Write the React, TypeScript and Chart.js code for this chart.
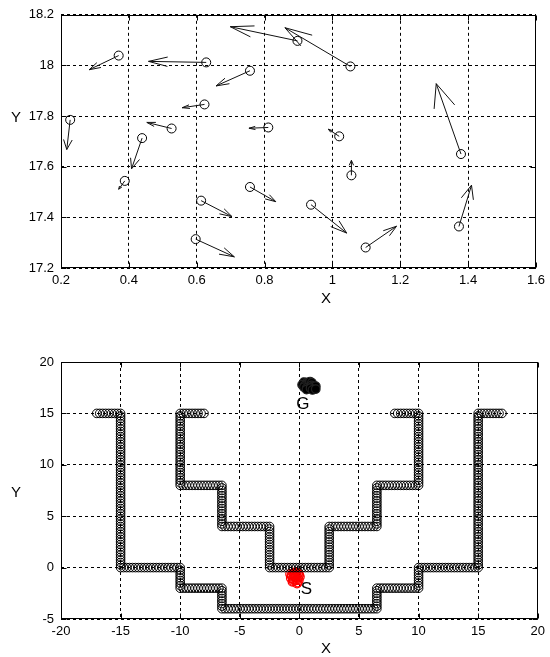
import React, { useEffect, useRef } from 'react';
import { Chart, registerables } from 'chart.js';

Chart.register(...registerables);

// Robot positions near the goal and their velocity vectors
const robotX = [0.370, 0.628, 0.757, 0.623, 0.227, 0.526, 0.811, 0.439, 0.388, 0.757, 0.613, 0.597, 0.897, 1.053, 1.020, 1.056, 1.379, 0.937, 1.098, 1.373];
const robotY = [18.039, 18.012, 17.979, 17.846, 17.785, 17.751, 17.755, 17.713, 17.544, 17.520, 17.466, 17.314, 18.097, 17.996, 17.720, 17.566, 17.650, 17.450, 17.281, 17.364];
const velU = [-0.087, -0.170, -0.100, -0.066, -0.010, -0.073, -0.057, -0.031, -0.018, 0.076, 0.091, 0.114, -0.198, -0.193, -0.032, 0.000, -0.073, 0.105, 0.091, 0.037];
const velV = [-0.056, 0.004, -0.060, -0.013, -0.117, 0.024, -0.003, -0.121, -0.033, -0.058, -0.063, -0.070, 0.056, 0.153, 0.028, 0.059, 0.278, -0.112, 0.084, 0.163];

// Robot start positions near S
const startX = [-0.35, -0.62, -0.10, -0.48, -0.21, -0.72, 0.04, -0.40, -0.55, -0.15, -0.30, -0.66, -0.05, -0.44, -0.25, -0.58, -0.12, -0.36, -0.78, -0.02, -0.50, -0.20];
const startY = [-0.95, -0.66, -0.58, -1.32, -1.18, -1.00, -0.90, -0.46, -1.12, -1.45, -0.75, -0.80, -1.22, -0.85, -0.52, -1.38, -0.98, -1.26, -0.62, -0.70, -0.58, -1.55];

// Obstacle walls (corner vertices); obstacle points are placed along them
const outerWallX = [-17, -15, -15, -10, -10, -6.5, -6.5, 6.5, 6.5, 10, 10, 15, 15, 17];
const outerWallY = [15, 15, 0, 0, -2, -2, -4, -4, -2, -2, 0, 0, 15, 15];
const innerWallX = [-8, -10, -10, -6.5, -6.5, -2.5, -2.5, 2.5, 2.5, 6.5, 6.5, 10, 10, 8];
const innerWallY = [15, 15, 8, 8, 4, 4, 0, 0, 4, 4, 8, 8, 15, 15];
const obstacleSpacing = 0.25;

// Axis ticks
const topXTicks = [0.2, 0.4, 0.6, 0.8, 1, 1.2, 1.4, 1.6];
const topYTicks = [17.2, 17.4, 17.6, 17.8, 18, 18.2];
const bottomXTicks = [-20, -15, -10, -5, 0, 5, 10, 15, 20];
const bottomYTicks = [-5, 0, 5, 10, 15, 20];

const goalLabel = { text: 'G', x: 0.3, y: 15.85 };
const startLabel = { text: 'S', x: 0.6, y: -2.15 };

const FONT = '"Liberation Sans", Arial, Helvetica, sans-serif';
const HEAD_ALPHA = 0.33;
const HEAD_BETA = 0.33;

type Pt = { x: number; y: number };
const GAP: Pt = { x: NaN, y: NaN };

// Quiver shafts and arrow heads as one broken polyline
function quiverPath(): Pt[] {
  const pts: Pt[] = [];
  for (let i = 0; i < robotX.length; i++) {
    const x = robotX[i], y = robotY[i], u = velU[i], v = velV[i];
    const tx = x + u, ty = y + v;
    pts.push({ x, y }, { x: tx, y: ty }, GAP);
    pts.push(
      { x: tx - HEAD_ALPHA * (u + HEAD_BETA * v), y: ty - HEAD_ALPHA * (v - HEAD_BETA * u) },
      { x: tx, y: ty },
      { x: tx - HEAD_ALPHA * (u - HEAD_BETA * v), y: ty - HEAD_ALPHA * (v + HEAD_BETA * u) },
      GAP
    );
  }
  return pts;
}

function wallPoints(xs: number[], ys: number[], step: number): Pt[] {
  const pts: Pt[] = [];
  for (let i = 0; i < xs.length - 1; i++) {
    const dx = xs[i + 1] - xs[i];
    const dy = ys[i + 1] - ys[i];
    const n = Math.max(1, Math.round(Math.hypot(dx, dy) / step));
    for (let k = 0; k < n; k++) pts.push({ x: xs[i] + (dx * k) / n, y: ys[i] + (dy * k) / n });
  }
  pts.push({ x: xs[xs.length - 1], y: ys[ys.length - 1] });
  return pts;
}

const zip = (xs: number[], ys: number[]): Pt[] => xs.map((x, i) => ({ x, y: ys[i] }));

type TextSpec = { text: string; px: number; py: number; size: number };

function frameAndLabels(texts: TextSpec[], dataTexts: { text: string; x: number; y: number; size: number }[]) {
  return {
    id: 'frameAndLabels',
    afterDraw(chart: any) {
      const { ctx, chartArea: a, scales } = chart;
      const L = Math.round(a.left) + 0.5, R = Math.round(a.right) - 0.5;
      const T = Math.round(a.top) + 0.5, B = Math.round(a.bottom) - 0.5;
      ctx.save();
      ctx.strokeStyle = '#000';
      ctx.lineWidth = 1;
      ctx.setLineDash([]);
      ctx.strokeRect(L, T, R - L, B - T);
      const tl = 5;
      ctx.beginPath();
      for (const t of scales.x.ticks) {
        const p = Math.round(scales.x.getPixelForValue(t.value)) + 0.5;
        ctx.moveTo(p, B); ctx.lineTo(p, B - tl);
        ctx.moveTo(p, T); ctx.lineTo(p, T + tl);
      }
      for (const t of scales.y.ticks) {
        const p = Math.round(scales.y.getPixelForValue(t.value)) + 0.5;
        ctx.moveTo(L, p); ctx.lineTo(L + tl, p);
        ctx.moveTo(R, p); ctx.lineTo(R - tl, p);
      }
      ctx.stroke();
      ctx.fillStyle = '#000';
      ctx.textAlign = 'center';
      ctx.textBaseline = 'middle';
      for (const t of texts) {
        ctx.font = `${t.size}px ${FONT}`;
        ctx.fillText(t.text, t.px, t.py);
      }
      for (const t of dataTexts) {
        ctx.font = `${t.size}px ${FONT}`;
        ctx.fillText(t.text, scales.x.getPixelForValue(t.x), scales.y.getPixelForValue(t.y));
      }
      ctx.restore();
    },
  };
}

function axisOptions(ticks: number[], fitSize: number, horizontal: boolean, padding: number) {
  return {
    type: 'linear',
    min: ticks[0],
    max: ticks[ticks.length - 1],
    afterBuildTicks: (s: any) => {
      s.ticks = ticks.map((value) => ({ value }));
    },
    afterFit: (s: any) => {
      if (horizontal) s.height = fitSize;
      else s.width = fitSize;
    },
    grid: {
      color: '#000',
      lineWidth: 1,
      drawTicks: false,
    },
    border: { display: false, dash: [3, 3] },
    ticks: {
      color: '#000',
      padding,
      font: { family: FONT, size: 13 },
      maxRotation: 0,
      autoSkip: false,
      callback: (v: number) => String(v),
    },
  };
}

function baseOptions(pad: any, xTicks: number[], yTicks: number[], xFit: number, yFit: number) {
  return {
    responsive: false,
    animation: false,
    devicePixelRatio: 1,
    events: [],
    layout: { padding: pad },
    plugins: { legend: { display: false }, tooltip: { enabled: false }, title: { display: false } },
    scales: {
      x: axisOptions(xTicks, xFit, true, 5),
      y: axisOptions(yTicks, yFit, false, 7),
    },
  };
}

function circleSet(data: Pt[], color: string, radius: number, fill = 'rgba(0,0,0,0)', width = 1) {
  return {
    data,
    showLine: false,
    pointStyle: 'circle',
    pointRadius: radius,
    pointBorderWidth: width,
    pointBorderColor: color,
    pointBackgroundColor: fill,
  };
}

const W = 550;
const TOP_H = 330;
const BOTTOM_H = 327;

export default function App() {
  const topRef = useRef<HTMLCanvasElement>(null);
  const bottomRef = useRef<HTMLCanvasElement>(null);

  useEffect(() => {
    const robots = zip(robotX, robotY);

    const top = new Chart(topRef.current as HTMLCanvasElement, {
      type: 'scatter',
      data: {
        datasets: [
          {
            data: quiverPath(),
            showLine: true,
            spanGaps: false,
            pointRadius: 0,
            borderColor: '#111',
            borderWidth: 1,
          } as any,
          circleSet(robots, '#000', 4.5) as any,
        ],
      },
      options: baseOptions({ top: 12, right: 10, left: 0, bottom: 0 }, topXTicks, topYTicks, TOP_H - 268, 61) as any,
      plugins: [
        frameAndLabels(
          [
            { text: 'X', px: 326, py: 299, size: 15 },
            { text: 'Y', px: 16, py: 118, size: 15 },
          ],
          []
        ),
      ],
    });

    const obstacles = [
      ...wallPoints(outerWallX, outerWallY, obstacleSpacing),
      ...wallPoints(innerWallX, innerWallY, obstacleSpacing),
    ];

    const bottom = new Chart(bottomRef.current as HTMLCanvasElement, {
      type: 'scatter',
      data: {
        datasets: [
          circleSet(obstacles, '#000', 4.3) as any,
          circleSet(robots, '#222', 4.3, '#000', 1.2) as any,
          circleSet(zip(startX, startY), '#ff0000', 4.3, 'rgba(0,0,0,0)', 1.3) as any,
        ],
      },
      options: baseOptions({ top: 32, right: 11, left: 0, bottom: 0 }, bottomXTicks, bottomYTicks, BOTTOM_H - 289, 61) as any,
      plugins: [
        frameAndLabels(
          [
            { text: 'X', px: 326, py: 319, size: 15 },
            { text: 'Y', px: 16, py: 163, size: 15 },
          ],
          [
            { ...goalLabel, size: 17 },
            { ...startLabel, size: 17 },
          ]
        ),
      ],
    });

    return () => {
      top.destroy();
      bottom.destroy();
    };
  }, []);

  return (
    <div style={{ position: 'absolute', left: 0, top: 0, width: W, height: TOP_H + BOTTOM_H, background: '#fff' }}>
      <canvas ref={topRef} width={W} height={TOP_H} style={{ position: 'absolute', left: 0, top: 0, width: W, height: TOP_H }} />
      <canvas ref={bottomRef} width={W} height={BOTTOM_H} style={{ position: 'absolute', left: 0, top: TOP_H, width: W, height: BOTTOM_H }} />
    </div>
  );
}
